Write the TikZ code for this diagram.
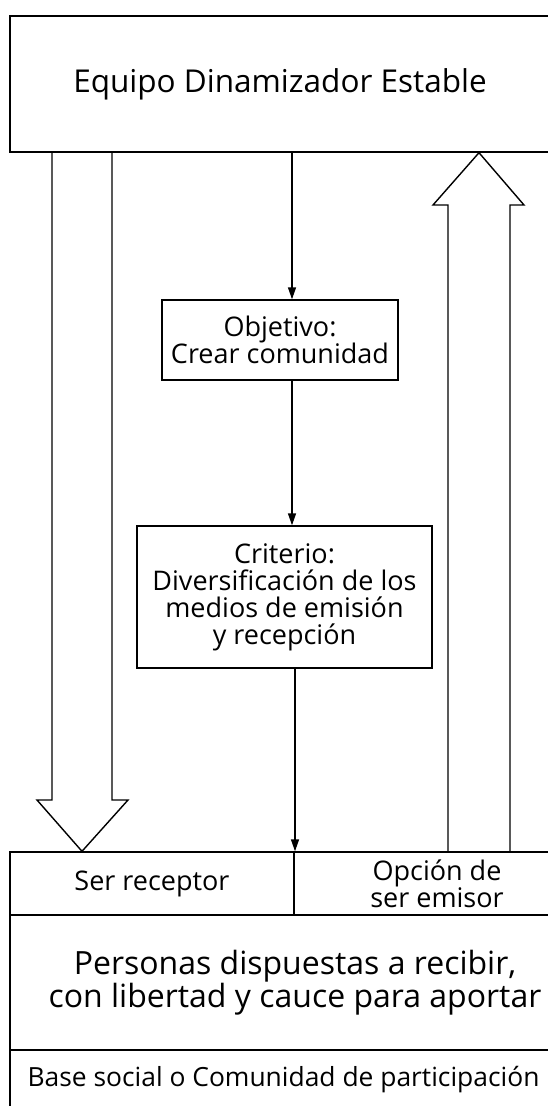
\documentclass[tikz,border=0pt]{standalone}
\usepackage{fontspec}
\setmainfont{Open Sans}
\usetikzlibrary{arrows.meta}

\begin{document}
\begin{tikzpicture}[x=1pt,y=-1pt,line width=1.4pt,
  box/.style={draw,rectangle,align=center,inner sep=0pt,font=\fontsize{27}{27}\selectfont},
  link/.style={-{Triangle[length=12pt,width=8pt]}}]
\useasboundingbox (0,0) rectangle (547,1106);
% top block
\node[box,minimum width=540pt,minimum height=136pt,font=\fontsize{31.5}{33}\selectfont] (equipo) at (280,84) {Equipo Dinamizador Estable};
% middle chain
\node[box,minimum width=236pt,minimum height=80pt] (objetivo) at (280,340) {Objetivo:\\Crear comunidad};
\node[box,minimum width=295pt,minimum height=142pt] (criterio) at (284.5,597) {Criterio:\\Diversificación de los\\medios de emisión\\y recepción};
% bottom block
\node[box,minimum width=284pt,minimum height=63pt] (receptor) at (152,883.5) {Ser receptor};
\node[box,minimum width=286pt,minimum height=63pt] (emisor) at (437,883.5) {Opción de\\ser emisor};
\node[box,minimum width=570pt,minimum height=135pt,font=\fontsize{32}{31}\selectfont] (personas) at (295,982.5) {Personas dispuestas a recibir,\\con libertad y cauce para aportar};
\node[box,minimum width=547pt,minimum height=60pt,font=\fontsize{26.4}{28}\selectfont] (base) at (283.5,1080) {Base social o Comunidad de participación};
% arrows
\draw[link] (292,0 |- equipo.south) -- (292,0 |- objetivo.north);
\draw[link] (292,0 |- objetivo.south) -- (292,0 |- criterio.north);
\draw[link] (295,0 |- criterio.south) -- (295,0 |- receptor.north);
% hollow arrows
\draw (52,0 |- equipo.south) -- (52,800) -- (37,800) -- (82,0 |- receptor.north) -- (128,800) -- (112,800) -- (112,0 |- equipo.south);
\draw (448,0 |- emisor.north) -- (448,205) -- (433,205) -- (479,0 |- equipo.south) -- (524,205) -- (510,205) -- (510,0 |- emisor.north);
\end{tikzpicture}
\end{document}
